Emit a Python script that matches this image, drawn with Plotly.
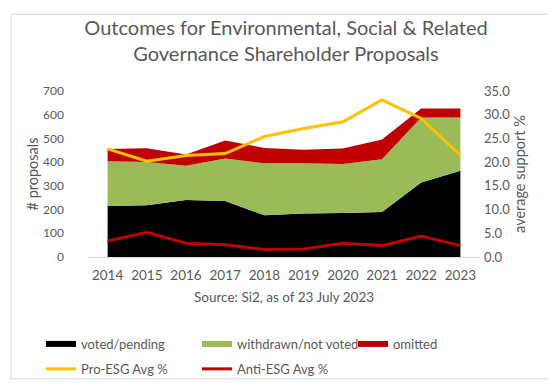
import plotly.graph_objects as go

years = [2014, 2015, 2016, 2017, 2018, 2019, 2020, 2021, 2022, 2023]
voted = [215, 218, 240, 236, 176, 183, 186, 190, 314, 364]
withdrawn = [189, 183, 145, 179, 219, 212, 206, 222, 274, 224]
omitted = [51, 58, 47, 76, 65, 57, 66, 84, 38, 38]
pro_esg = [22.8, 20.2, 21.4, 21.8, 25.4, 27.1, 28.5, 33.1, 29.2, 21.4]
anti_esg = [3.4, 5.2, 2.9, 2.6, 1.6, 1.7, 2.9, 2.4, 4.4, 2.4]

FONT = "Lato"
GREY = "#595959"

fig = go.Figure()
for name, vals, col in [("voted/pending", voted, "#000000"),
                        ("withdrawn/not voted", withdrawn, "#9BBB59"),
                        ("omitted", omitted, "#C00000")]:
    fig.add_trace(go.Scatter(x=years, y=vals, name=name, stackgroup="one",
                             mode="none", fillcolor=col, legend="legend",
                             hoverinfo="skip"))

fig.add_trace(go.Scatter(x=years, y=pro_esg, name="Pro-ESG Avg %", yaxis="y2",
                         mode="lines", line=dict(color="#FFC000", width=3),
                         legend="legend2"))
fig.add_trace(go.Scatter(x=years, y=anti_esg, name="Anti-ESG Avg %", yaxis="y2",
                         mode="lines", line=dict(color="#C00000", width=3),
                         legend="legend2"))

def px_x(px):
    return (px - 80) / 392.0

def px_y(py):
    return (256 - py) / 173.0

fig.update_layout(
    width=556, height=388,
    margin=dict(l=80, r=84, t=83, b=132),
    paper_bgcolor="white", plot_bgcolor="white",
    font=dict(family=FONT, color=GREY),
    title=dict(text="Outcomes for Environmental, Social & Related<br>Governance Shareholder Proposals",
               x=0.5, xanchor="center", y=1 - 27 / 388, yanchor="top",
               font=dict(family=FONT, size=20, color=GREY)),
    xaxis=dict(range=[2013.5, 2023.5], tickmode="array", tickvals=years,
               ticktext=[str(y) for y in years], showgrid=False, zeroline=False,
               showline=True, linecolor="#D9D9D9", linewidth=1, ticks="",
               ticklabelstandoff=6, tickfont=dict(size=13.5, color=GREY)),
    yaxis=dict(range=[0, 700], dtick=100, showgrid=False, zeroline=False,
               showline=False, ticks="", ticklabelstandoff=23,
               tickfont=dict(size=12, color=GREY),
               title=dict(text="# proposals", standoff=1,
                          font=dict(size=14.5, color=GREY))),
    yaxis2=dict(range=[0, 35], dtick=5, tickformat=".1f", overlaying="y",
                side="right", showgrid=False, zeroline=False, showline=False,
                ticks="", ticklabelstandoff=3,
                tickfont=dict(size=13, color=GREY),
                title=dict(text="average support %", standoff=5,
                           font=dict(size=14.5, color=GREY))),
    legend=dict(orientation="h", x=px_x(33), y=px_y(331), xanchor="left",
                yanchor="top", entrywidth=111, font=dict(size=13, color=GREY),
                bgcolor="rgba(0,0,0,0)", traceorder="normal"),
    legend2=dict(orientation="h", x=px_x(33), y=px_y(357), xanchor="left",
                 yanchor="top", entrywidth=111, font=dict(size=13, color=GREY),
                 bgcolor="rgba(0,0,0,0)", traceorder="normal"),
    showlegend=True,
    annotations=[dict(text="Source: Si2, as of 23 July 2023", xref="paper",
                      yref="paper", x=0.5, y=px_y(298), xanchor="center",
                      yanchor="middle", showarrow=False,
                      font=dict(size=13.5, color=GREY))],
    shapes=[dict(type="rect", xref="paper", yref="paper",
                 x0=px_x(3), x1=px_x(549), y0=px_y(383), y1=px_y(3),
                 line=dict(color="#D9D9D9", width=1), layer="below")],
)

fig.write_html("out.html")
